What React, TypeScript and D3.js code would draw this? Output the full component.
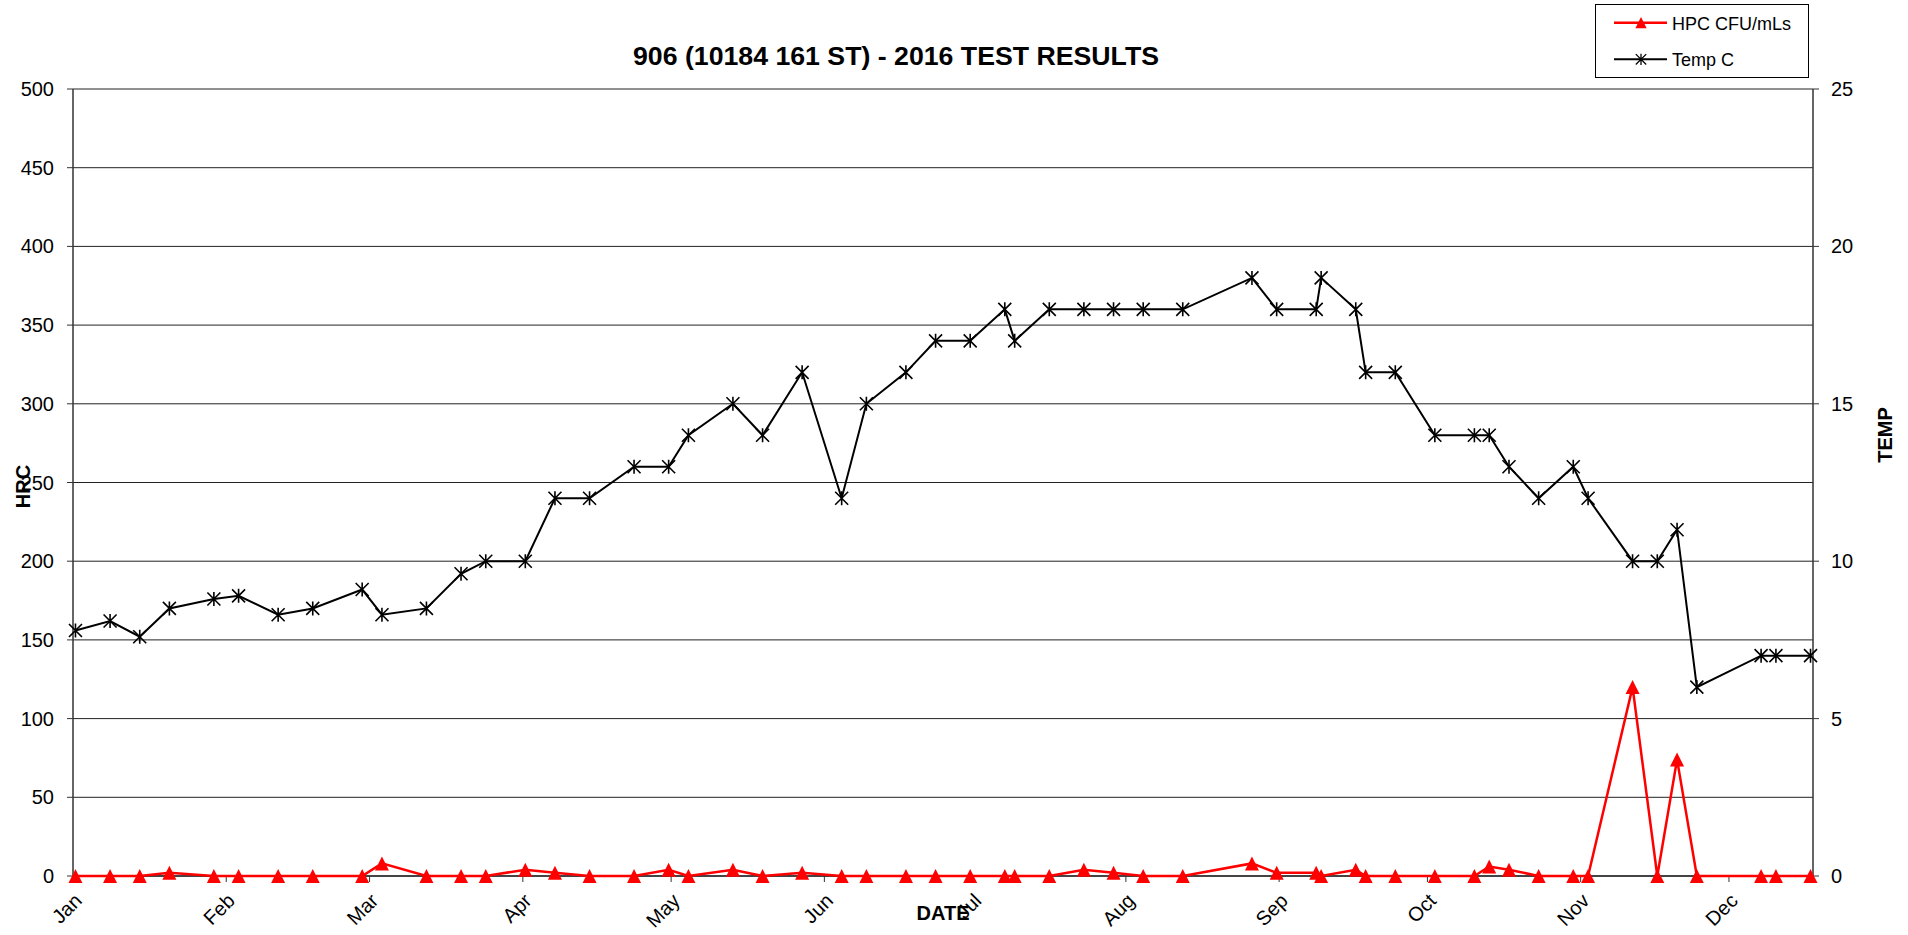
import React, { useEffect, useRef } from 'react';
import * as d3 from 'd3';

// sampling dates (2016), one entry per test
const sampleDates = [
  '2016-01-01', '2016-01-08', '2016-01-14', '2016-01-20', '2016-01-29',
  '2016-02-03', '2016-02-11', '2016-02-18', '2016-02-28', '2016-03-03',
  '2016-03-12', '2016-03-19', '2016-03-24', '2016-04-01', '2016-04-07',
  '2016-04-14', '2016-04-23', '2016-04-30', '2016-05-04', '2016-05-13',
  '2016-05-19', '2016-05-27', '2016-06-04', '2016-06-09', '2016-06-17',
  '2016-06-23', '2016-06-30', '2016-07-07', '2016-07-09', '2016-07-16',
  '2016-07-23', '2016-07-29', '2016-08-04', '2016-08-12', '2016-08-26',
  '2016-08-31', '2016-09-08', '2016-09-09', '2016-09-16', '2016-09-18',
  '2016-09-24', '2016-10-02', '2016-10-10', '2016-10-13', '2016-10-17',
  '2016-10-23', '2016-10-30', '2016-11-02', '2016-11-11', '2016-11-16',
  '2016-11-20', '2016-11-24', '2016-12-07', '2016-12-10', '2016-12-17',
];

// HPC CFU/mLs (left axis)
const hpcValues = [
  0, 0, 0, 2, 0,
  0, 0, 0, 0, 8,
  0, 0, 0, 4, 2,
  0, 0, 4, 0, 4,
  0, 2, 0, 0, 0,
  0, 0, 0, 0, 0,
  4, 2, 0, 0, 8,
  2, 2, 0, 4, 0,
  0, 0, 0, 6, 4,
  0, 0, 0, 120, 0,
  74, 0, 0, 0, 0,
];

// Temp C (right axis)
const tempValues = [
  7.8, 8.1, 7.6, 8.5, 8.8,
  8.9, 8.3, 8.5, 9.1, 8.3,
  8.5, 9.6, 10, 10, 12,
  12, 13, 13, 14, 15,
  14, 16, 12, 15, 16,
  17, 17, 18, 17, 18,
  18, 18, 18, 18, 19,
  18, 18, 19, 18, 16,
  16, 14, 14, 14, 13,
  12, 13, 12, 10, 10,
  11, 6, 7, 7, 7,
];

const hpcTicks = [0, 50, 100, 150, 200, 250, 300, 350, 400, 450, 500];
const tempTicks = [0, 5, 10, 15, 20, 25];
const monthNames = ['Jan', 'Feb', 'Mar', 'Apr', 'May', 'Jun', 'Jul', 'Aug', 'Sep', 'Oct', 'Nov', 'Dec'];

const W = 1908;
const H = 935;
const margin = { top: 89, right: 95, bottom: 59, left: 73 };
const FONT = '"Liberation Sans", Arial, sans-serif';

const starPath = 'M-6.5,-6.5L6.5,6.5M-6.5,6.5L6.5,-6.5M0,-7L0,7';
const triPath = 'M0,-7L7,7L-7,7Z';

export default function App() {
  const ref = useRef<SVGSVGElement | null>(null);

  useEffect(() => {
    const svg = d3.select(ref.current);
    svg.selectAll('*').remove();

    const parse = d3.timeParse('%Y-%m-%d');
    const dates = sampleDates.map((d) => parse(d) as Date);
    // points sit in the middle of their day, like a date axis in Excel
    const rows = dates.map((d, i) => ({ date: d3.timeHour.offset(d, 12), hpc: hpcValues[i], temp: tempValues[i] }));

    const x0 = margin.left;
    const x1 = W - margin.right;
    const y0 = H - margin.bottom;
    const y1 = margin.top;

    const endDay = d3.timeDay.offset(dates[dates.length - 1], 1);
    const x = d3.scaleTime().domain([dates[0], endDay]).range([x0, x1]);
    const yL = d3.scaleLinear().domain([0, 500]).range([y0, y1]);
    const yR = d3.scaleLinear().domain([0, 25]).range([y0, y1]);

    svg.append('rect').attr('width', W).attr('height', H).attr('fill', '#fff');

    // gridlines
    svg.append('g')
      .selectAll('line')
      .data(hpcTicks.filter((t) => t > 0))
      .enter()
      .append('line')
      .attr('x1', x0).attr('x2', x1)
      .attr('y1', (d) => yL(d)).attr('y2', (d) => yL(d))
      .attr('stroke', '#222').attr('stroke-width', 1);

    // left axis
    const gl = svg.append('g').attr('font-family', FONT).attr('font-size', 20);
    gl.append('line').attr('x1', x0).attr('x2', x0).attr('y1', y1).attr('y2', y0)
      .attr('stroke', '#333').attr('stroke-width', 1.5);
    hpcTicks.forEach((t) => {
      gl.append('line').attr('x1', x0 - 6).attr('x2', x0).attr('y1', yL(t)).attr('y2', yL(t))
        .attr('stroke', '#333');
      gl.append('text').attr('x', x0 - 19).attr('y', yL(t)).attr('dy', '0.35em')
        .attr('text-anchor', 'end').text(t);
    });

    // right axis
    const gr = svg.append('g').attr('font-family', FONT).attr('font-size', 20);
    gr.append('line').attr('x1', x1).attr('x2', x1).attr('y1', y1).attr('y2', y0)
      .attr('stroke', '#333').attr('stroke-width', 1.5);
    tempTicks.forEach((t) => {
      gr.append('line').attr('x1', x1).attr('x2', x1 + 6).attr('y1', yR(t)).attr('y2', yR(t))
        .attr('stroke', '#333');
      gr.append('text').attr('x', x1 + 18).attr('y', yR(t)).attr('dy', '0.35em')
        .attr('text-anchor', 'start').text(t);
    });

    // x axis
    const gx = svg.append('g').attr('font-family', FONT).attr('font-size', 20);
    gx.append('line').attr('x1', x0).attr('x2', x1).attr('y1', y0).attr('y2', y0)
      .attr('stroke', '#444').attr('stroke-width', 2);
    const months = d3.timeMonth.range(dates[0], endDay);
    months.forEach((m) => {
      const mx = x(m);
      gx.append('line').attr('x1', mx).attr('x2', mx).attr('y1', y0).attr('y2', y0 + 6)
        .attr('stroke', '#333');
      gx.append('text')
        .attr('text-anchor', 'end')
        .attr('transform', `translate(${mx + 10},${y0 + 26}) rotate(-45)`)
        .text(monthNames[m.getMonth()]);
    });

    // series
    const hpcLine = d3.line<any>().x((d) => x(d.date)).y((d) => yL(d.hpc));
    const tempLine = d3.line<any>().x((d) => x(d.date)).y((d) => yR(d.temp));

    svg.append('path').datum(rows).attr('d', hpcLine)
      .attr('fill', 'none').attr('stroke', '#ff0000').attr('stroke-width', 2.5);
    svg.append('g').selectAll('path').data(rows).enter().append('path')
      .attr('d', triPath)
      .attr('transform', (d) => `translate(${x(d.date)},${yL(d.hpc)})`)
      .attr('fill', '#ff0000');

    svg.append('path').datum(rows).attr('d', tempLine)
      .attr('fill', 'none').attr('stroke', '#000').attr('stroke-width', 2);
    svg.append('g').selectAll('path').data(rows).enter().append('path')
      .attr('d', starPath)
      .attr('transform', (d) => `translate(${x(d.date)},${yR(d.temp)})`)
      .attr('fill', 'none').attr('stroke', '#000').attr('stroke-width', 1.6);

    // titles
    svg.append('text').attr('x', 896).attr('y', 65).attr('text-anchor', 'middle')
      .attr('font-family', FONT).attr('font-weight', 'bold').attr('font-size', 25)
      .attr('textLength', 526).attr('lengthAdjust', 'spacingAndGlyphs')
      .text('906 (10184 161 ST) - 2016 TEST RESULTS');

    svg.append('text').attr('transform', `translate(30,${(y0 + y1) / 2 + 4}) rotate(-90)`)
      .attr('text-anchor', 'middle').attr('font-family', FONT).attr('font-weight', 'bold')
      .attr('font-size', 20).text('HRC');

    svg.append('text').attr('transform', `translate(1892,435) rotate(-90)`)
      .attr('text-anchor', 'middle').attr('font-family', FONT).attr('font-weight', 'bold')
      .attr('font-size', 20).text('TEMP');

    svg.append('text').attr('x', (x0 + x1) / 2).attr('y', 920).attr('text-anchor', 'middle')
      .attr('font-family', FONT).attr('font-weight', 'bold').attr('font-size', 20).text('DATE');

    // legend
    const lg = svg.append('g').attr('font-family', FONT).attr('font-size', 18);
    lg.append('rect').attr('x', 1595.5).attr('y', 4.5).attr('width', 213).attr('height', 73)
      .attr('fill', '#fff').attr('stroke', '#000').attr('stroke-width', 1);
    lg.append('line').attr('x1', 1614).attr('x2', 1667).attr('y1', 22.7).attr('y2', 22.7)
      .attr('stroke', '#ff0000').attr('stroke-width', 2.5);
    lg.append('path').attr('d', triPath).attr('transform', 'translate(1641,22.7) scale(0.8)')
      .attr('fill', '#ff0000');
    lg.append('text').attr('x', 1672).attr('y', 29.5).text('HPC CFU/mLs');
    lg.append('line').attr('x1', 1614).attr('x2', 1667).attr('y1', 59.3).attr('y2', 59.3)
      .attr('stroke', '#000').attr('stroke-width', 2);
    lg.append('path').attr('d', starPath).attr('transform', 'translate(1641,59.3) scale(0.8)')
      .attr('fill', 'none').attr('stroke', '#000').attr('stroke-width', 1.6);
    lg.append('text').attr('x', 1672).attr('y', 66).text('Temp C');
  }, []);

  return (
    <svg
      ref={ref}
      width={W}
      height={H}
      style={{ position: 'absolute', left: 0, top: 0, display: 'block' }}
    />
  );
}
